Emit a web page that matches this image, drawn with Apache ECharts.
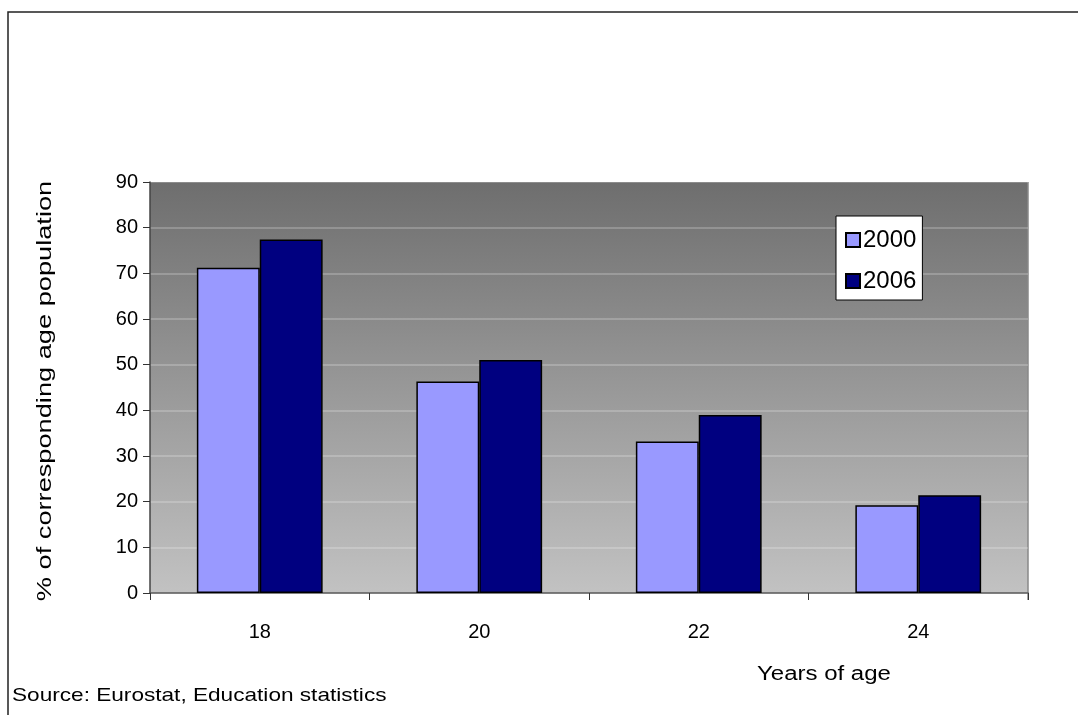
<!DOCTYPE html>
<html>
<head>
<meta charset="utf-8">
<script src="https://cdn.jsdelivr.net/npm/echarts@6/dist/echarts.min.js"></script>
<style>
  html, body { margin: 0; padding: 0; background: #ffffff; }
  #chart { width: 1078px; height: 715px; }
</style>
</head>
<body>
<div id="chart"></div>
<script>
// Participation in education by age, EU
const ages = ['18', '20', '22', '24'];
const share2000 = [71.2, 46.3, 33.2, 19.2];
const share2006 = [77.4, 51.0, 39.0, 21.4];
const seriesNames = ['2000', '2006'];
const yTicks = { min: 0, max: 90, interval: 10 };

const FONT = '"Liberation Sans", Arial, sans-serif';
const chart = echarts.init(document.getElementById('chart'), null, { renderer: 'canvas' });

const barStyle = (color) => ({ color: color, borderColor: '#000000', borderWidth: 1.5 });

chart.setOption({
  animation: false,
  backgroundColor: '#ffffff',
  textStyle: { fontFamily: FONT },
  grid: {
    left: 150, right: 50, top: 182, bottom: 122,
    show: true,
    borderWidth: 0,
    backgroundColor: new echarts.graphic.LinearGradient(0, 0, 0, 1, [
      { offset: 0, color: '#6e6e6e' },
      { offset: 1, color: '#c2c2c2' }
    ])
  },
  legend: {
    orient: 'vertical',
    left: 836, top: 216,
    padding: [12, 6, 7, 9],
    itemGap: 17,
    itemWidth: 14, itemHeight: 14,
    backgroundColor: '#ffffff',
    borderColor: '#000000', borderWidth: 1,
    icon: 'rect',
    textStyle: { fontFamily: FONT, fontSize: 24, color: '#000000', padding: [0, 0, 0, -2] },
    data: seriesNames
  },
  xAxis: {
    type: 'category',
    data: ages,
    axisLine: { show: true, lineStyle: { color: '#555555', width: 1.5 } },
    axisTick: { show: true, length: 7, lineStyle: { color: '#333333' } },
    axisLabel: { margin: 29, fontSize: 20, color: '#000000', fontFamily: FONT },
    splitLine: { show: false }
  },
  yAxis: {
    type: 'value',
    min: yTicks.min, max: yTicks.max, interval: yTicks.interval,
    axisLine: { show: true, lineStyle: { color: '#444444', width: 1.5 } },
    axisTick: { show: true, length: 7, lineStyle: { color: '#333333' } },
    axisLabel: { margin: 12, fontSize: 20, color: '#000000', fontFamily: FONT },
    splitLine: { show: true, lineStyle: { color: 'rgba(255,255,255,0.28)', width: 1.5 } }
  },
  series: [
    {
      name: seriesNames[0], type: 'bar', data: share2000,
      barGap: '0%', barCategoryGap: '42.7%',
      itemStyle: barStyle('#9999ff')
    },
    {
      name: seriesNames[1], type: 'bar', data: share2006,
      barGap: '0%', barCategoryGap: '42.7%',
      itemStyle: barStyle('#000080')
    }
  ],
  graphic: [
    {
      type: 'rect', silent: true, z: -1,
      shape: { x: 8, y: 12, width: 1200, height: 800 },
      style: { fill: 'none', stroke: '#222222', lineWidth: 1.5 }
    },
    {
      type: 'line', silent: true,
      shape: { x1: 1028, y1: 182, x2: 1028, y2: 600 },
      style: { stroke: '#888888', lineWidth: 1.5 }
    },
    {
      // y-axis title, stretched along the text direction
      type: 'text', silent: true,
      x: 45, y: 391, rotation: Math.PI / 2, scaleX: 1.36,
      style: {
        text: '% of corresponding age population', font: '20px ' + FONT, fill: '#000000',
        align: 'center', verticalAlign: 'middle'
      }
    },
    {
      type: 'text', silent: true,
      x: 757, y: 674, scaleX: 1.2,
      style: { text: 'Years of age', font: '20px ' + FONT, fill: '#000000', verticalAlign: 'middle' }
    },
    {
      type: 'text', silent: true,
      x: 12, y: 696, scaleX: 1.19,
      style: { text: 'Source: Eurostat, Education statistics', font: '19px ' + FONT, fill: '#000000', verticalAlign: 'middle' }
    }
  ]
});
</script>
</body>
</html>
